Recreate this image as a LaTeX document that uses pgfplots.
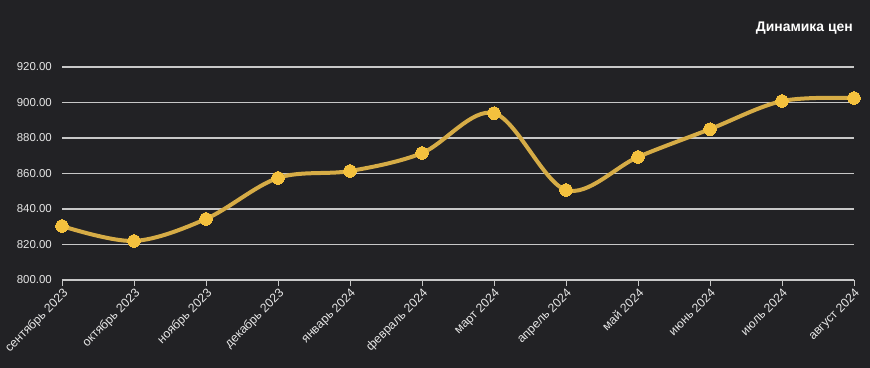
\documentclass[border=0pt]{standalone}
\usepackage{pgfplots}
\pgfplotsset{compat=1.18}
\usepackage{fontspec}
\setmainfont{Liberation Sans}
\definecolor{bg}{HTML}{222225}
\definecolor{gridc}{HTML}{C8C8C8}
\definecolor{linec}{HTML}{D6AC46}
\definecolor{markc}{HTML}{F4C13E}
\definecolor{txt}{HTML}{E6E6E6}
\begin{document}
\begin{tikzpicture}
\fill[bg] (0,0) rectangle (870bp,368bp);
\path[use as bounding box] (0,0) rectangle (870bp,368bp);
\begin{axis}[
  at={(62bp,88bp)}, anchor=south west, scale only axis,
  width=792bp, height=213bp,
  xmin=0, xmax=11, ymin=800, ymax=920,
  axis x line*=bottom, axis y line*=left,
  y axis line style={draw=none},
  x axis line style={draw=gridc, line width=1.8bp, -},
  ytick={800,820,...,920}, ytick style={draw=none},
  ymajorgrids, grid style={draw=gridc, line width=1.1bp},
  xtick={0,...,11},
  xticklabels={сентябрь 2023, октябрь 2023, ноябрь 2023, декабрь 2023, январь 2024, февраль 2024, март 2024, апрель 2024, май 2024, июнь 2024, июль 2024, август 2024},
  xtick style={draw=gridc, line width=1bp},
  major tick length=6bp, tick align=outside,
  x tick label style={rotate=45, anchor=north east, inner sep=1bp, font=\fontsize{12.3}{14}\selectfont},
  y tick label style={inner sep=0pt, xshift=-4bp, font=\fontsize{11.5}{13}\selectfont},
  tick label style={text=txt},
  yticklabel style={/pgf/number format/.cd, fixed, fixed zerofill, precision=2, 1000 sep={}},
  /pgf/number format/assume math mode=true,
  clip=false,
]
\addplot[linec, line width=4bp, smooth, tension=0.55, mark=*, mark size=6.3bp,
  mark options={fill=markc, draw=markc, line width=0pt}] coordinates {
  (0,830.4) (1,822) (2,834.4) (3,857.5) (4,861.4) (5,871.5)
  (6,894) (7,850.7) (8,869.3) (9,885) (10,900.8) (11,902.5)
};
\end{axis}
\node[anchor=east, inner sep=0pt, font=\bfseries\fontsize{14}{16}\selectfont, text=white] at (853bp,340bp) {Динамика цен};
\end{tikzpicture}
\end{document}
